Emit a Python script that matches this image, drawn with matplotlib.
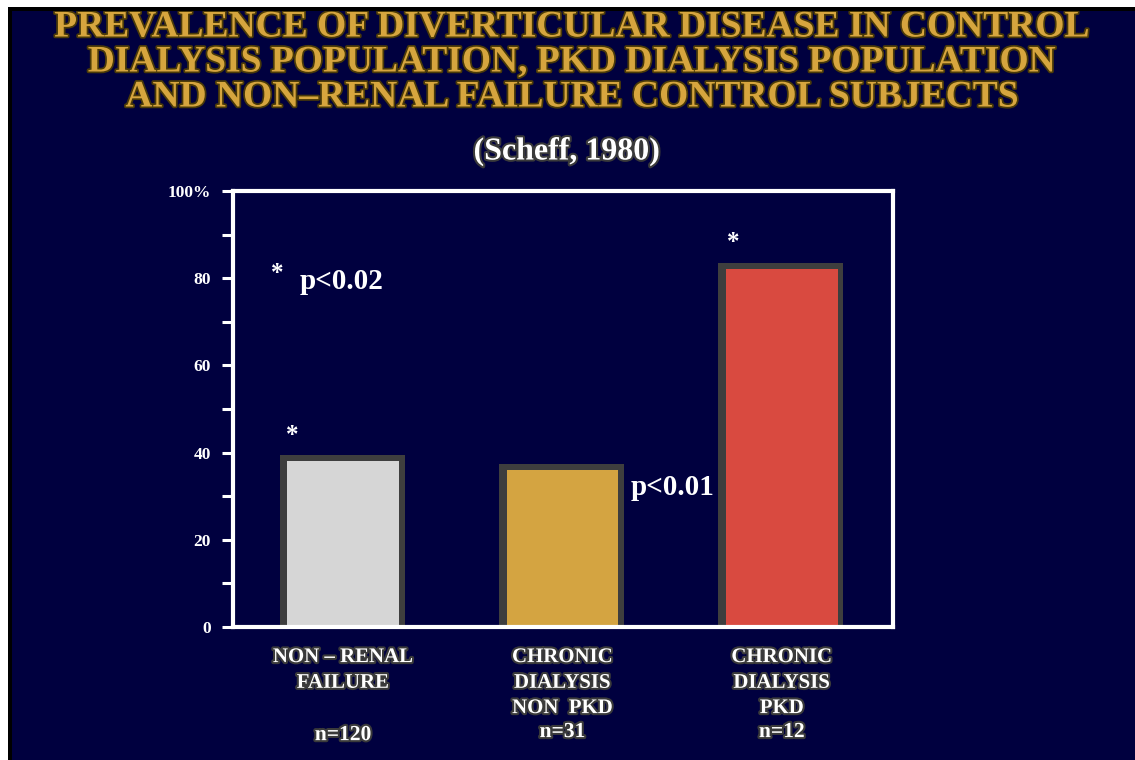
import matplotlib
matplotlib.use("Agg")
import matplotlib.pyplot as plt
import matplotlib.patheffects as pe
from matplotlib.patches import Rectangle
import numpy as np

# ---- data ----
categories = [["NON \u2013 RENAL", "FAILURE"],
              ["CHRONIC", "DIALYSIS", "NON  PKD"],
              ["CHRONIC", "DIALYSIS", "PKD"]]
n_labels = ["n=120", "n=31", "n=12"]
values = [38, 36, 82]
bar_colors = ["#D6D6D6", "#D4A441", "#D94A40"]
yticks_major = [0, 20, 40, 60, 80, 100]
ytick_labels = ["0", "20", "40", "60", "80", "100%"]
yticks_minor = [10, 30, 50, 70, 90]
title_lines = ["PREVALENCE OF DIVERTICULAR DISEASE IN CONTROL",
               "DIALYSIS POPULATION, PKD DIALYSIS POPULATION",
               "AND NON\u2013RENAL FAILURE CONTROL SUBJECTS"]
subtitle = "(Scheff, 1980)"

W, H = 1135, 760
NAVY = "#00003F"
GOLD = "#D6A53E"
SERIF = ["Liberation Serif", "DejaVu Serif"]

fig = plt.figure(figsize=(W / 100, H / 100), dpi=100)
fig.patch.set_facecolor(NAVY)

def fx(px):
    return px / W

def fy(py):
    return 1 - py / H

# frame: white outer border, thin black line (drawn on top of text)
fig.patches.append(Rectangle((0, 0), fx(8), 1, transform=fig.transFigure,
                             facecolor="white", edgecolor="none", zorder=20))
fig.patches.append(Rectangle((0, fy(7)), 1, 1 - fy(7), transform=fig.transFigure,
                             facecolor="white", edgecolor="none", zorder=20))
fig.patches.append(Rectangle((fx(8), 0), fx(4), fy(7), transform=fig.transFigure,
                             facecolor="black", edgecolor="none", zorder=20))
fig.patches.append(Rectangle((fx(8), fy(11)), 1, fy(7) - fy(11), transform=fig.transFigure,
                             facecolor="black", edgecolor="none", zorder=20))

# axes placement
left, right, top, bottom = 233, 893, 191, 627
ax = fig.add_axes([fx(left), fy(bottom), fx(right - left), fy(top) - fy(bottom)])
ax.set_facecolor(NAVY)

x = np.arange(len(values))
width = 0.51
# shadow glow behind bars
ax.bar(x - 0.004, [v + 1.5 for v in values], width=width + 0.06,
       color="#3e3e3e", zorder=1)
ax.bar(x, values, width=width, color=bar_colors, zorder=2)

ax.set_xlim(-0.502, 2.507)
ax.set_ylim(0, 100)
ax.set_xticks([])
ax.set_yticks(yticks_major)
ax.set_yticklabels(ytick_labels)
ax.set_yticks(yticks_minor, minor=True)
ax.tick_params(axis="y", which="both", direction="out", length=8, width=2.2,
               color="white", labelcolor="white", pad=8)
for lab in ax.get_yticklabels():
    lab.set_fontfamily(SERIF)
    lab.set_fontweight("bold")
    lab.set_fontsize(12.5)
for s in ax.spines.values():
    s.set_color("white")
    s.set_linewidth(3)

# annotations
txt_kw = dict(color="white", fontfamily=SERIF, fontweight="bold")
ax.text(-0.23, 44, "*", ha="center", va="center", fontsize=18, **txt_kw)
ax.text(1.78, 88.3, "*", ha="center", va="center", fontsize=18, **txt_kw)
ax.text(-0.30, 81.0, "*", ha="center", va="center", fontsize=18, **txt_kw)
ax.text(-0.196, 79.2, "p<0.02", ha="left", va="center", fontsize=21, **txt_kw)
ax.text(1.31, 32.0, "p<0.01", ha="left", va="center", fontsize=21, **txt_kw)

# category labels under the axis
shadow = [pe.withStroke(linewidth=3, foreground="#3a3a3a")]
line_y = [-0.069, -0.128, -0.186]
n_y = [-0.248, -0.241, -0.241]
xt = ax.get_xaxis_transform()
for i, lines in enumerate(categories):
    for j, line in enumerate(lines):
        ax.text(x[i], line_y[j], line, transform=xt, ha="center", va="center",
                fontsize=15, clip_on=False, path_effects=shadow, **txt_kw)
    ax.text(x[i], n_y[i], n_labels[i], transform=xt, ha="center", va="center",
            fontsize=15.5, clip_on=False, path_effects=shadow, **txt_kw)

# titles
title_y = [27, 62, 97]
title_shadow = [pe.withStroke(linewidth=2.5, foreground="#4a3a08")]
for ty, line in zip(title_y, title_lines):
    fig.text(fx(572), fy(ty), line, ha="center", va="center", color=GOLD,
             fontfamily=SERIF, fontweight="bold", fontsize=27,
             path_effects=title_shadow, zorder=5)
fig.text(fx(567), fy(152), subtitle, ha="center", va="center", color="white",
         fontfamily=SERIF, fontweight="bold", fontsize=23,
         path_effects=shadow, zorder=5)

fig.savefig("out.png", dpi=100, facecolor=fig.get_facecolor())
